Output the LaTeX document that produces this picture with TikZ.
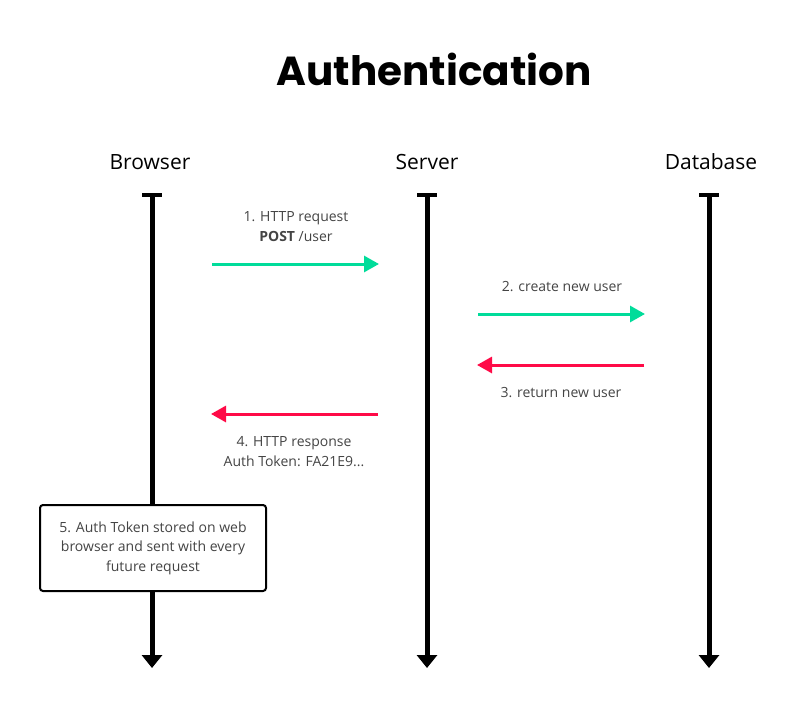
\documentclass[tikz,border=0pt]{standalone}
\usepackage{fontspec}
\setmainfont{Open Sans}
\newfontfamily\titlefont{Poppins}
\usetikzlibrary{arrows.meta}
\definecolor{okgreen}{HTML}{00DC9A}
\definecolor{errred}{HTML}{FF0A47}
\definecolor{labelgray}{HTML}{444444}
\begin{document}
\begin{tikzpicture}[x=1pt,y=-1pt,
  lifeline/.style={line width=5pt,-{Triangle[length=13pt,width=20pt]}},
  topcap/.style={line width=4pt},
  msg/.style={line width=3pt,-{Triangle[length=15pt,width=16pt]}},
  good/.style={msg,okgreen},
  bad/.style={msg,errred},
  lbl/.style={text=labelgray,font=\fontsize{14}{18}\selectfont,align=center,inner sep=0pt},
  actor/.style={font=\fontsize{21}{24}\selectfont,inner sep=0pt},
  notebox/.style={draw,line width=2pt,rounded corners=3pt,minimum width=226pt,minimum height=86pt,align=center,text=labelgray,font=\fontsize{14}{19.5}\selectfont,inner sep=0pt}]
\useasboundingbox (0,0) rectangle (800,707);
\node[font=\titlefont\fontsize{40.5}{46}\selectfont\bfseries] (title) at (434,69) {Authentication};
\node[actor] (browser) at (150,162) {Browser};
\node[actor] (server) at (427,162) {Server};
\node[actor] (database) at (711,162) {Database};
% lifelines
\coordinate (bt) at (152,195); \coordinate (bb) at (152,668);
\coordinate (st) at (427,195); \coordinate (sb) at (427,668);
\coordinate (dt) at (709,195); \coordinate (db) at (709,668);
\draw[lifeline] (bt) -- (bb);
\draw[lifeline] (st) -- (sb);
\draw[lifeline] (dt) -- (db);
\draw[topcap] (142,195) -- (162,195);
\draw[topcap] (417,195) -- (437,195);
\draw[topcap] (699,195) -- (719,195);
% messages
\coordinate (m1a) at (212,264); \coordinate (m1b) at (379,264);
\coordinate (m2a) at (478,314); \coordinate (m2b) at (645,314);
\coordinate (m3a) at (644,365); \coordinate (m3b) at (477,365);
\coordinate (m4a) at (378,414); \coordinate (m4b) at (211,414);
\draw[good] (m1a) -- (m1b);
\draw[good] (m2a) -- (m2b);
\draw[bad] (m3a) -- (m3b);
\draw[bad] (m4a) -- (m4b);
\node[lbl] (l1) at (296,227) {1. HTTP request\\[2pt]\textbf{POST} /user};
\node[lbl] (l2) at (562,287) {2. create new user};
\node[lbl] (l3) at (561,393) {3. return new user};
\node[lbl] (l4) at (294,452) {4. HTTP response\\[2pt]Auth Token: FA21E9...};
\node[notebox,fill=white] (note) at (153,548) {5. Auth Token stored on web\\browser and sent with every\\future request};
\end{tikzpicture}
\end{document}
